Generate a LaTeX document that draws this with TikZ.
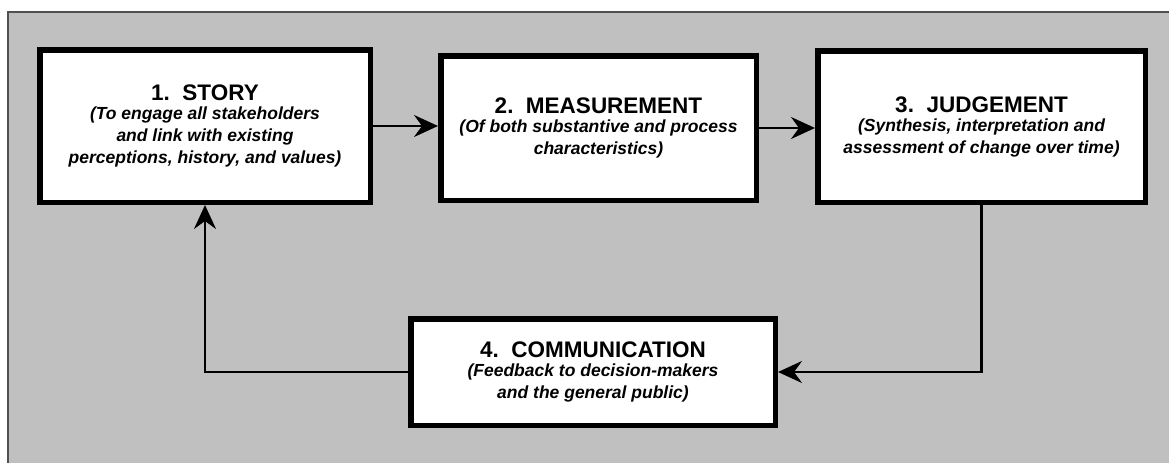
\documentclass[tikz,border=0pt]{standalone}
\usepackage{fontspec}
\setmainfont{Liberation Sans}
\usepackage{tikz}
\usetikzlibrary{arrows.meta}
\definecolor{panelgray}{RGB}{192,192,192}
\definecolor{edgegray}{RGB}{80,80,80}
\tikzstyle{block} = [
    rectangle, draw=black, fill=white, line width=5.5pt, align=center,
    inner sep=0pt, font=\fontsize{17.5}{22}\selectfont\bfseries\itshape
]
\tikzstyle{arrow} = [line width=2.3pt, -{Stealth[length=24pt,width=22pt,inset=8pt]}]
\newcommand{\boxtitle}[1]{{\fontsize{22.5}{22}\selectfont\upshape #1}\\[-3pt]}

\begin{document}
\begin{tikzpicture}[x=1pt, y=1pt]
    \useasboundingbox (0,0) rectangle (1169,-463);
    \fill [panelgray] (8,-12) rectangle (1169,-463);
    \draw [edgegray, line width=1.5pt] (8,-463) -- (8,-12) -- (1169,-12);

    \node (story) [block, minimum width=330.5pt, minimum height=152.5pt] at (205,-126)
        {\boxtitle{1.\ \ STORY}(To engage all stakeholders\\and link with existing\\perceptions, history, and values)};
    \node (measure) [block, minimum width=315.5pt, minimum height=144.5pt] at (598.5,-128)
        {\boxtitle{2.\ \ MEASUREMENT}(Of both substantive and process\\characteristics)};
    \node (judge) [block, minimum width=327.5pt, minimum height=151.5pt] at (981.5,-126.5)
        {\boxtitle{3.\ \ JUDGEMENT}(Synthesis, interpretation and\\assessment of change over time)};
    \node (comm) [block, minimum width=364.5pt, minimum height=106.5pt] at (593,-372)
        {\boxtitle{4.\ \ COMMUNICATION}(Feedback to decision-makers\\and the general public)};

    \draw [arrow] (story.east) -- (story.east -| measure.west);
    \draw [arrow] (measure.east) -- (measure.east -| judge.west);
    \draw [arrow] (judge.south) |- (comm.east);
    \draw [arrow] (comm.west) -| (story.south);
\end{tikzpicture}
\end{document}
